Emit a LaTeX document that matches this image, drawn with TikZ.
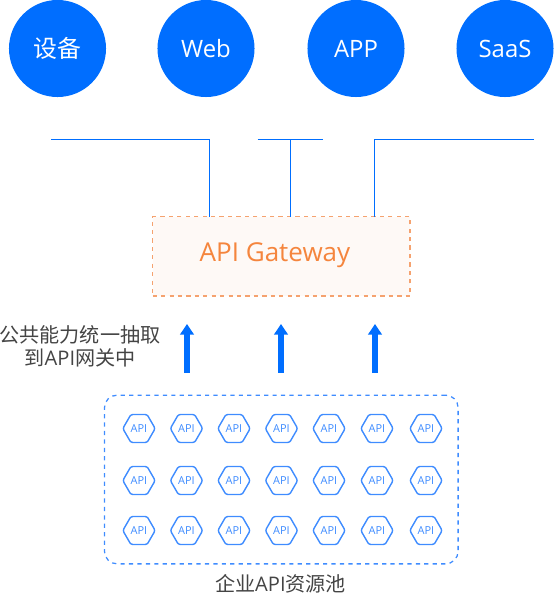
\documentclass[tikz,border=0pt]{standalone}
\usepackage{fontspec}
\setmainfont{Open Sans}
\newfontfamily\cjk{Noto Sans CJK SC}
\usetikzlibrary{arrows.meta,shapes.geometric}

\definecolor{apiblue}{HTML}{006EFF}
\definecolor{hexblue}{HTML}{3F8CFF}
\definecolor{gateorange}{HTML}{F5A26F}
\definecolor{gatetext}{HTML}{F5853D}
\definecolor{gatefill}{HTML}{FEF9F6}
\definecolor{labelgray}{HTML}{444444}

\tikzset{
    client circle/.style={
      circle,
      fill=apiblue,
      text=white,
      inner sep=0pt,
      minimum size=69pt,
      font=\fontsize{17}{19}\selectfont
    },
    bus wire/.style={
      draw=apiblue,
      line width=0.9pt
    },
    gateway box/.style={
      draw=gateorange,
      fill=gatefill,
      dashed,
      line width=0.8pt,
      inner sep=0pt,
      minimum width=183pt,
      minimum height=56.5pt
    },
    gateway label/.style={
      text=gatetext,
      inner sep=0pt,
      font=\fontsize{18.5}{20}\selectfont
    },
    lift arrow/.style={
      draw=apiblue,
      line width=4.2pt,
      -{Triangle[length=7.5pt,width=9.5pt]}
    },
    pool box/.style={
      draw=hexblue,
      dashed,
      line width=0.9pt,
      rounded corners=9pt,
      inner sep=0pt,
      minimum width=251.5pt,
      minimum height=120pt
    },
    api hex/.style={
      regular polygon,
      regular polygon sides=6,
      draw=hexblue,
      line width=1pt,
      rounded corners=1.5pt,
      inner sep=0pt,
      minimum size=23pt,
      text=hexblue,
      font=\fontsize{7.8}{8}\selectfont
    },
    caption label/.style={
      text=labelgray,
      inner sep=0pt,
      font=\fontsize{14.3}{16.5}\selectfont
    }
  }

\begin{document}
\begin{tikzpicture}[x=0.025cm,y=-0.025cm]
      \useasboundingbox (0,0) rectangle (554,594);

      % 上の円
      \node[client circle] (device) at (57.5,48.5) {\cjk 设备};
      \node[client circle] (web) at (206,48.5) {Web};
      \node[client circle] (app) at (356,48.5) {APP};
      \node[client circle] (saas) at (505,48.5) {SaaS};

      % ゲートウェイ
      \node[gateway box] (gateway) at (281.3,256.3) {};
      \node[gateway label] (gatewaylabel) at (275,255) {API Gateway};

      % 配線
      \coordinate (wireLeft) at (51,139.3);
      \coordinate (dropLeft) at (209.5,216.7);
      \coordinate (wireMidA) at (257.6,139.3);
      \coordinate (wireMidB) at (322.6,139.3);
      \coordinate (wireMidC) at (290.5,139.3);
      \coordinate (dropMid) at (290.5,216.7);
      \coordinate (wireRight) at (533.6,139.3);
      \coordinate (dropRight) at (374.5,216.7);
      \draw[bus wire] (wireLeft) -| (dropLeft);
      \draw[bus wire] (wireMidA) -- (wireMidB);
      \draw[bus wire] (wireMidC) -- (dropMid);
      \draw[bus wire] (wireRight) -| (dropRight);

      % 矢印
      \foreach \name/\px in {a/187,b/281,c/375} {
        \coordinate (lift\name from) at (\px,372.7);
        \coordinate (lift\name to) at (\px,324);
        \draw[lift arrow] (lift\name from) -- (lift\name to);
      }

      % 左のラベル
      \node[caption label,align=center] (liftlabel) at (80,346.5) {\cjk 公共能力统一抽取\\{\cjk 到}API{\cjk 网关中}};

      % API プール
      \node[pool box] (pool) at (281.3,479.5) {};
      \foreach \row/\py in {1/428.5,2/480.5,3/530.5} {
        \foreach \col/\px in {1/139,2/186.5,3/234,4/281.5,5/329,6/377,7/426} {
          \node[api hex] (api\row\col) at (\px,\py) {API};
        }
      }
      \node[caption label] (poollabel) at (280.5,583.5) {{\cjk 企业}API{\cjk 资源池}};
    \end{tikzpicture}
\end{document}
